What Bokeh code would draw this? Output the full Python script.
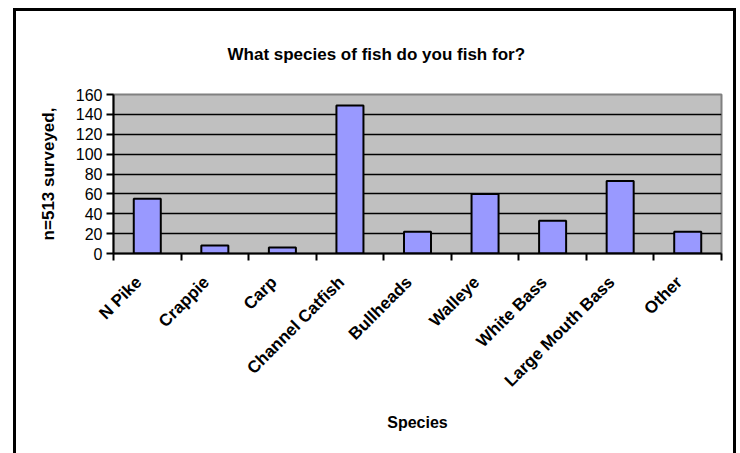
import math
from bokeh.plotting import figure
from bokeh.models import Range1d, FixedTicker, Title
from bokeh.embed import file_html
from bokeh.resources import INLINE

# ---- data ----
categories = ["N Pike", "Crappie", "Carp", "Channel Catfish", "Bullheads",
              "Walleye", "White Bass", "Large Mouth Bass", "Other"]
counts = [55, 8, 6, 149, 22, 60, 33, 73, 22]
y_ticks = [0, 20, 40, 60, 80, 100, 120, 140, 160]

title_text = "What species of fish do you fish for?"
x_title = "Species"
y_title = "n=513 surveyed,"

FONT = "Liberation Sans"

n = len(categories)
centers = [i + 0.5 for i in range(n)]
bounds = [i for i in range(n + 1)]
LABEL_SHIFT = 0.125  # rotated labels end slightly left of the category centre
label_pos = [c - LABEL_SHIFT for c in centers]

p = figure(width=723, height=445, output_backend="svg", toolbar_location=None,
           x_range=Range1d(0, n), y_range=Range1d(0, 160),
           min_border_left=97, min_border_right=18, min_border_top=83, min_border_bottom=203)
p.styles = {"border-left": "3px solid black", "border-top": "3px solid black",
            "border-right": "3px solid black", "margin-left": "13px",
            "margin-top": "8px"}
p.background_fill_color = "#C0C0C0"
p.border_fill_color = "white"
p.outline_line_color = "#808080"
p.outline_line_width = 2

p.vbar(x=centers, top=counts, width=0.4, fill_color="#9999FF",
       line_color="black", line_width=2)

# grid
p.xgrid.grid_line_color = None
p.ygrid.ticker = FixedTicker(ticks=y_ticks)
p.ygrid.grid_line_color = "black"
p.ygrid.grid_line_width = 1.4

# y axis
ya = p.yaxis[0]
ya.ticker = FixedTicker(ticks=y_ticks)
ya.axis_line_color = "black"
ya.axis_line_width = 2
ya.major_tick_out = 7
ya.major_tick_in = 0
ya.major_tick_line_width = 2
ya.minor_tick_line_color = None
ya.major_label_standoff = 4
ya.major_label_text_font = FONT
ya.major_label_text_font_size = "16px"
ya.major_label_text_color = "black"
ya.axis_label = y_title
ya.axis_label_text_font = FONT
ya.axis_label_text_font_size = "17px"
ya.axis_label_text_font_style = "bold"
ya.axis_label_text_color = "black"
ya.axis_label_standoff = 15

# x axis
xa = p.xaxis[0]
xa.ticker = FixedTicker(ticks=label_pos, minor_ticks=bounds)
xa.major_label_overrides = {c: name for c, name in zip(label_pos, categories)}
xa.axis_line_color = "black"
xa.axis_line_width = 2
xa.major_tick_line_color = None
xa.major_tick_out = 7
xa.major_tick_in = 0
xa.minor_tick_line_color = "black"
xa.minor_tick_line_width = 2
xa.minor_tick_out = 7
xa.minor_tick_in = 0
xa.major_label_orientation = math.pi / 4
xa.major_label_standoff = 19
xa.major_label_text_font = FONT
xa.major_label_text_font_size = "17px"
xa.major_label_text_font_style = "bold"
xa.major_label_text_color = "black"
xa.axis_label = x_title
xa.axis_label_text_font = FONT
xa.axis_label_text_font_size = "16px"
xa.axis_label_text_font_style = "bold"
xa.axis_label_text_color = "black"
xa.axis_label_standoff = 14

# chart title (centred on the chart area, not the plot frame)
t = Title(text=title_text, align="left", vertical_align="middle", offset=114,
          standoff=60, text_font=FONT, text_font_size="17px",
          text_font_style="bold", text_color="black")
p.add_layout(t, "above")

open("out.html", "w").write(file_html(p, INLINE))
